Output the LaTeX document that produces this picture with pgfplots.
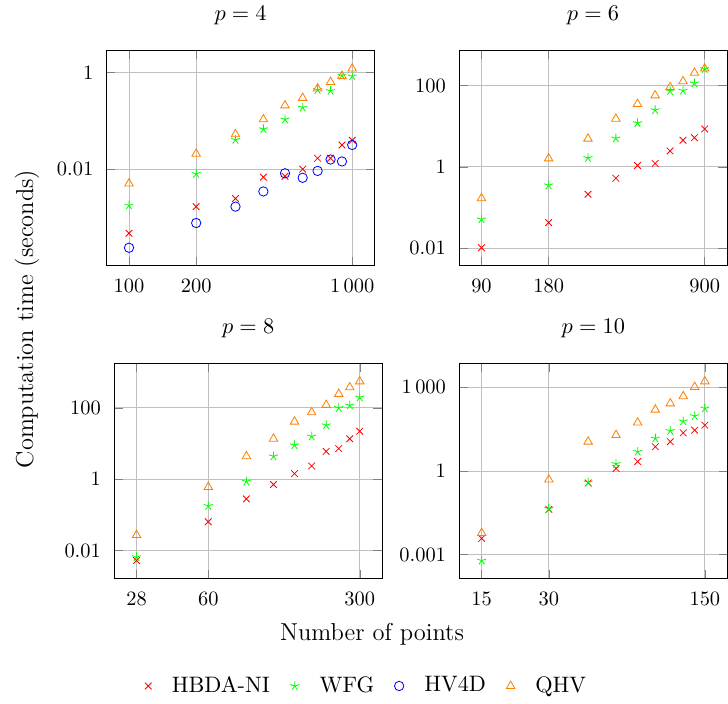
\documentclass[12pt,border=0pt]{standalone}
\usepackage{pgfplots}
\pgfplotsset{compat=1.18}
\pgfplotsset{
  legend image code/.code={\draw[mark repeat=2,mark phase=2,#1] plot coordinates {(0cm,0cm)(0.15cm,0cm)(0.3cm,0cm)};},
}

\begin{document}
\begin{tikzpicture}
\useasboundingbox (0,0) rectangle (356.9pt,-345.1pt);

% p = 4
\begin{axis}[xmode=log, ymode=log, scale only axis, width=131.3pt, height=105.4pt,
  anchor=north west, at={(52.3pt,-24.85pt)},
  enlargelimits=0.1, grid=major, log ticks with fixed point,
  /pgf/number format/1000 sep={\,},
  tick label style={font=\footnotesize},
  xticklabel style={yshift=-2.4pt}, yticklabel style={xshift=-2.4pt},
  xminorticks=false, yminorticks=false,
  title style={yshift=2.5pt, font=\small},
  title={$p=4$},
  xtick={100,200,1000}, ytick={0.01,1},
  legend columns=4,
  legend style={at={(0.974,-1.955)}, anchor=center, draw=none, font=\small, column sep=8pt},
]
\addplot[only marks, mark=x, mark size=2.3pt, red] coordinates {(100,0.00048) (200,0.0017) (300,0.0025) (400,0.0069) (500,0.0072) (600,0.0101) (700,0.017) (800,0.017) (900,0.032) (1000,0.040)};
\addplot[only marks, mark=star, mark size=2.3pt, green] coordinates {(100,0.0018) (200,0.0081) (300,0.041) (400,0.068) (500,0.108) (600,0.19) (700,0.44) (800,0.42) (900,0.87) (1000,0.84)};
\addplot[only marks, mark=o, mark size=2.3pt, blue] coordinates {(100,0.00024) (200,0.00078) (300,0.0017) (400,0.0035) (500,0.0083) (600,0.0067) (700,0.0093) (800,0.016) (900,0.0146) (1000,0.032)};
\addplot[only marks, mark=triangle, mark size=2.4pt, orange] coordinates {(100,0.0051) (200,0.021) (300,0.053) (400,0.108) (500,0.21) (600,0.30) (700,0.47) (800,0.64) (900,0.85) (1000,1.21)};
\legend{HBDA-NI, WFG, HV4D, QHV}
\end{axis}

% p = 6
\begin{axis}[xmode=log, ymode=log, scale only axis, width=131.3pt, height=105.4pt,
  anchor=north west, at={(225.1pt,-24.85pt)},
  enlargelimits=0.1, grid=major, log ticks with fixed point,
  /pgf/number format/1000 sep={\,},
  tick label style={font=\footnotesize},
  xticklabel style={yshift=-2.4pt}, yticklabel style={xshift=-2.4pt},
  xminorticks=false, yminorticks=false,
  title style={yshift=2.5pt, font=\small},
  title={$p=6$},
  xtick={90,180,900}, ytick={0.01,1,100}]
\addplot[only marks, mark=x, mark size=2.3pt, red] coordinates {(90,0.0101) (180,0.042) (270,0.21) (360,0.52) (450,1.07) (540,1.2) (630,2.45) (720,4.5) (810,5.2) (900,8.5)};
\addplot[only marks, mark=star, mark size=2.3pt, green] coordinates {(90,0.051) (180,0.35) (270,1.65) (360,5.0) (450,11.9) (540,24.8) (630,73) (720,75) (810,114) (900,255)};
\addplot[only marks, mark=triangle, mark size=2.4pt, orange] coordinates {(90,0.167) (180,1.6) (270,4.9) (360,15.2) (450,35) (540,57) (630,91) (720,127) (810,205) (900,261)};
\end{axis}

% p = 8
\begin{axis}[xmode=log, ymode=log, scale only axis, width=131.3pt, height=105.4pt,
  anchor=north west, at={(56.0pt,-178.2pt)},
  enlargelimits=0.1, grid=major, log ticks with fixed point,
  /pgf/number format/1000 sep={\,},
  tick label style={font=\footnotesize},
  xticklabel style={yshift=-2.4pt}, yticklabel style={xshift=-2.4pt},
  xminorticks=false, yminorticks=false,
  title style={yshift=2.5pt, font=\small},
  title={$p=8$},
  xtick={28,60,300}, ytick={0.01,1,100}]
\addplot[only marks, mark=x, mark size=2.3pt, red] coordinates {(28,0.0052) (60,0.064) (90,0.28) (120,0.71) (150,1.43) (180,2.34) (210,6.0) (240,7.2) (270,13.6) (300,22.2)};
\addplot[only marks, mark=star, mark size=2.3pt, green] coordinates {(28,0.0065) (60,0.178) (90,0.86) (120,4.4) (150,9.0) (180,15.8) (210,32.7) (240,100) (270,118) (300,198)};
\addplot[only marks, mark=triangle, mark size=2.4pt, orange] coordinates {(28,0.027) (60,0.6) (90,4.4) (120,13.6) (150,41) (180,75) (210,121) (240,246) (270,376) (300,553)};
\end{axis}

% p = 10
\begin{axis}[xmode=log, ymode=log, scale only axis, width=131.3pt, height=105.4pt,
  anchor=north west, at={(225.2pt,-178.2pt)},
  enlargelimits=0.1, grid=major, log ticks with fixed point,
  /pgf/number format/1000 sep={\,},
  tick label style={font=\footnotesize},
  xticklabel style={yshift=-2.4pt}, yticklabel style={xshift=-2.4pt},
  xminorticks=false, yminorticks=false,
  title style={yshift=2.5pt, font=\small},
  title={$p=10$},
  xtick={15,30,150}, ytick={0.001,1,1000}]
\addplot[only marks, mark=x, mark size=2.3pt, red] coordinates {(15,0.0038) (30,0.042) (45,0.37) (60,1.23) (75,2.18) (90,7.4) (105,11.2) (120,23.3) (135,29) (150,43.7)};
\addplot[only marks, mark=star, mark size=2.3pt, green] coordinates {(15,0.00061) (30,0.044) (45,0.39) (60,1.8) (75,4.9) (90,14.7) (105,27.4) (120,60.6) (135,93.5) (150,175)};
\addplot[only marks, mark=triangle, mark size=2.4pt, orange] coordinates {(15,0.0059) (30,0.49) (45,11.2) (60,19.3) (75,54.5) (90,158) (105,264) (120,479) (135,1030) (150,1630)};
\end{axis}

\node[rotate=90, anchor=base] at (16.3pt,-156.4pt) {Computation time (seconds)};
\node[anchor=base] at (182.4pt,-314.2pt) {Number of points};
\end{tikzpicture}
\end{document}
